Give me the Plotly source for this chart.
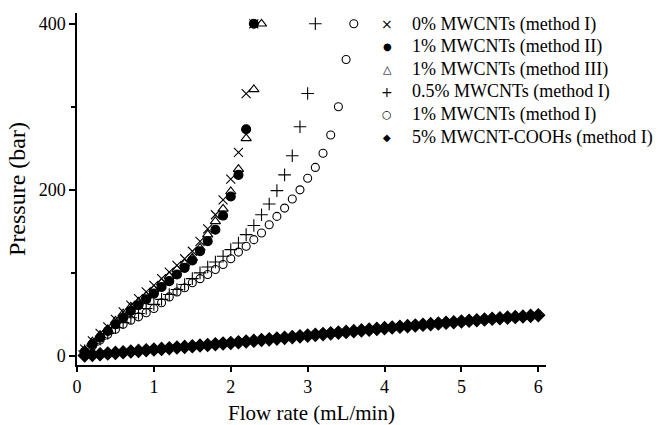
import plotly.graph_objects as go

FLOW = [0.1, 0.2, 0.3, 0.4, 0.5, 0.6, 0.7, 0.8, 0.9, 1.0,
        1.1, 1.2, 1.3, 1.4, 1.5, 1.6, 1.7, 1.8, 1.9, 2.0,
        2.1, 2.2, 2.3, 2.4, 2.5, 2.6, 2.7, 2.8, 2.9, 3.0,
        3.1, 3.2, 3.3, 3.4, 3.5, 3.6, 3.7, 3.8, 3.9, 4.0,
        4.1, 4.2, 4.3, 4.4, 4.5, 4.6, 4.7, 4.8, 4.9, 5.0,
        5.1, 5.2, 5.3, 5.4, 5.5, 5.6, 5.7, 5.8, 5.9, 6.0]

NAMES = ["0% MWCNTs (method I)", "1% MWCNTs (method II)", "1% MWCNTs (method III)",
         "0.5% MWCNTs (method I)", "1% MWCNTs (method I)", "5% MWCNT-COOHs (method I)"]
LEGEND_GLYPHS = ["×", "●", "△", "+", "○", "◆"]
GLYPH_SIZES = [14, 10, 11, 14, 11, 10]

P_0_I = [8, 18, 27, 35, 44, 53, 61, 69, 77, 85, 93, 101, 109, 117, 126, 138, 153, 170,
         188, 213, 245, 316, 400]
P_1_II = [5, 14, 22, 30, 38, 46, 54, 61, 68, 75, 83, 90, 98, 106, 115, 126, 138, 152,
          169, 192, 218, 273, 400]
P_1_III = [7, 17, 25, 32, 42, 51, 59, 65, 72, 80, 88, 96, 104, 111, 118, 130, 146, 162,
           177, 198, 225, 262, 321, 400]
P_05_I = [6, 13, 20, 27, 34, 40, 46, 51, 57, 62, 68, 74, 80, 86, 93, 100, 107, 113,
          120, 128, 136, 146, 157, 170, 183, 199, 218, 241, 276, 316, 400]
P_1_I = [5, 12, 19, 26, 32, 38, 43, 47, 52, 57, 64, 71, 77, 82, 88, 93, 98, 104,
         110, 117, 125, 132, 140, 148, 158, 168, 178, 189, 200, 214, 227, 244, 266,
         300, 357, 400]
P_5_COOH = [0.5, 1.2, 2.0, 2.8, 3.6, 4.4, 5.2, 6.0, 6.8, 7.6,
            8.4, 9.2, 10.0, 10.8, 11.6, 12.4, 13.2, 14.0, 14.8, 15.6,
            16.4, 17.2, 18.1, 19.0, 19.9, 20.8, 21.7, 22.6, 23.5, 24.4,
            25.3, 26.2, 27.1, 28.0, 28.9, 29.8, 30.7, 31.6, 32.5, 33.4,
            34.2, 35.0, 35.8, 36.6, 37.4, 38.2, 39.0, 39.8, 40.6, 41.4,
            42.2, 43.0, 43.8, 44.6, 45.4, 46.1, 46.8, 47.5, 48.2, 49.0]

SERIES = [P_0_I, P_1_II, P_1_III, P_05_I, P_1_I, P_5_COOH]
SYMBOLS = ["x-thin-open", "circle", "triangle-up-open", "cross-thin-open", "circle-open", "diamond"]
SIZES = [9, 9, 9, 9, 8, 10]

FONT = "Liberation Serif, Times New Roman, serif"

W, H = 658, 425
ML, MR, MT, MB = 77, 112, 13, 60
PLOT_H = H - MT - MB

fig = go.Figure()
for name, vals, sym, sz in zip(NAMES, SERIES, SYMBOLS, SIZES):
    fig.add_trace(go.Scatter(
        x=FLOW[:len(vals)], y=vals, mode="markers", name=name, showlegend=False,
        marker=dict(symbol=sym, size=sz, color="black",
                    line=dict(color="black", width=1.1)),
    ))

# legend drawn as text rows (glyph + label)
for i, (name, g, gs) in enumerate(zip(NAMES, LEGEND_GLYPHS, GLYPH_SIZES)):
    ypx = 24 + 22.6 * i
    yp = (H - MB - ypx) / PLOT_H
    fig.add_annotation(xref="paper", yref="paper", x=(387 - ML) / (W - ML - MR), y=yp,
                       text=g, showarrow=False, xanchor="center", yanchor="middle",
                       font=dict(family="DejaVu Sans", size=gs, color="black"))
    fig.add_annotation(xref="paper", yref="paper", x=(410 - ML) / (W - ML - MR), y=yp,
                       text=name, showarrow=False, xanchor="left", yanchor="middle",
                       font=dict(family=FONT, size=18, color="black"))

fig.update_layout(
    width=W, height=H,
    margin=dict(l=ML, r=MR, t=MT, b=MB, autoexpand=False),
    paper_bgcolor="white", plot_bgcolor="white",
    font=dict(family=FONT, size=18, color="black"),
    showlegend=False,
    xaxis=dict(range=[0, 6.1], tickvals=[0, 1, 2, 3, 4, 5, 6], automargin=False,
               showline=True, linecolor="black", linewidth=1.5,
               ticks="outside", ticklen=5, tickwidth=1.5, tickcolor="black",
               showgrid=False, zeroline=False,
               title=dict(text="Flow rate (mL/min)", font=dict(family=FONT, size=21), standoff=9)),
    yaxis=dict(range=[-11, 413], tickvals=[0, 200, 400], automargin=False,
               showline=True, linecolor="black", linewidth=1.5,
               ticks="outside", ticklen=6, tickwidth=1.5, tickcolor="black",
               minor=dict(tickvals=[100, 300], ticks="outside", ticklen=4, tickwidth=1.5, tickcolor="black"),
               showgrid=False, zeroline=False,
               title=dict(text="Pressure (bar)", font=dict(family=FONT, size=24), standoff=6)),
)

fig.write_html("out.html")
